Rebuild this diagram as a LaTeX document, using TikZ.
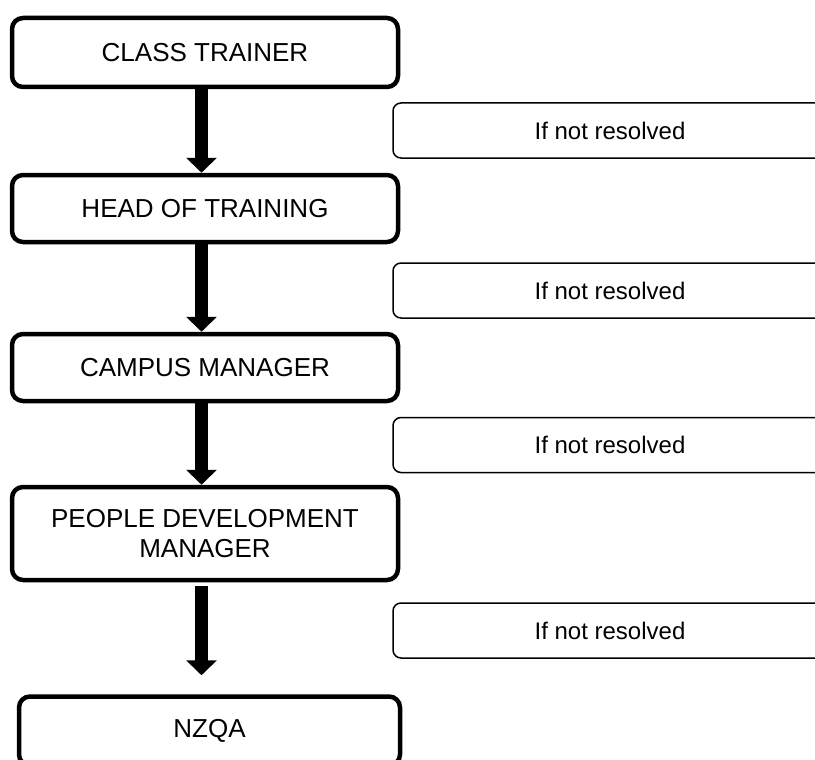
\documentclass[tikz,border=0pt]{standalone}
\usepackage{fontspec}
\setmainfont{Liberation Sans}
\usetikzlibrary{arrows.meta,calc}
\begin{document}
\begin{tikzpicture}[x=1pt,y=-1pt,
  mainbox/.style={draw=black, line width=4.5pt, rounded corners=11pt, fill=white,
    minimum width=386pt, inner sep=0pt, align=center,
    font=\fontsize{26}{30}\selectfont},
  sidebox/.style={draw=black, line width=1.5pt, rounded corners=8pt, fill=white,
    minimum width=434pt, minimum height=55pt, inner sep=0pt,
    font=\fontsize{24}{28}\selectfont},
  flow/.style={line width=13pt, -{Triangle[width=30pt,length=15pt]}}]
\clip (0,0) rectangle (815,760);
\useasboundingbox (0,0) rectangle (815,760);
\fill[white] (0,0) rectangle (815,760);
\coordinate (ax) at (201.5,0);
% main boxes
\node[mainbox, minimum height=69pt] (b1) at (205,52.5) {CLASS TRAINER};
\node[mainbox, minimum height=67pt] (b2) at (205,208.5) {HEAD OF TRAINING};
\node[mainbox, minimum height=67pt] (b3) at (205,367.5) {CAMPUS MANAGER};
\node[mainbox, minimum height=93pt] (b4) at (205,533.5) {PEOPLE DEVELOPMENT\\MANAGER};
\node[mainbox, minimum height=69pt, minimum width=381pt] (b5) at (209.5,731) {NZQA};
% side boxes
\node[sidebox] (s1) at (610,130.5) {If not resolved};
\node[sidebox] (s2) at (610,290.5) {If not resolved};
\node[sidebox] (s3) at (610,445) {If not resolved};
\node[sidebox] (s4) at (610,630.5) {If not resolved};
% arrows
\draw[flow] (b1.south -| ax) -- (b2.north -| ax);
\draw[flow] (b2.south -| ax) -- (b3.north -| ax);
\draw[flow] (b3.south -| ax) -- (b4.north -| ax);
\draw[flow, shorten <=4pt, shorten >=19pt] (b4.south -| ax) -- (b5.north -| ax);
\end{tikzpicture}
\end{document}
